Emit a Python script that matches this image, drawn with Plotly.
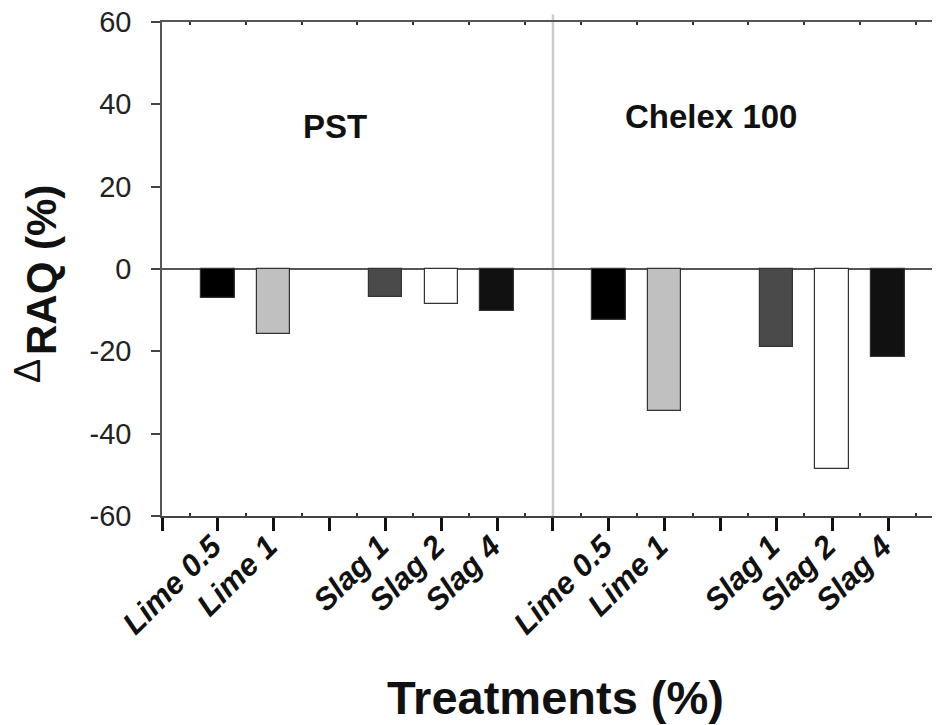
import plotly.graph_objects as go

# ---- data ----
treatments = ["Lime 0.5", "Lime 1", "Slag 1", "Slag 2", "Slag 4"]
pst_values = [-7.1, -15.7, -6.9, -8.4, -10.1]
chelex_values = [-12.3, -34.4, -18.9, -48.5, -21.3]
group_labels = ["PST", "Chelex 100"]
# axis slots (blank = gap / separator)
slot_labels = ["", "Lime 0.5", "Lime 1", "", "Slag 1", "Slag 2", "Slag 4",
               "", "Lime 0.5", "Lime 1", "", "Slag 1", "Slag 2", "Slag 4"]
y_ticks = [-60, -40, -20, 0, 20, 40, 60]
y_tick_text = ["-60", "-40", "-20", "0", "20", "40", "60"]

# ---- styles ----
bar_colors = ["#000000", "#c0c0c0", "#4a4a4a", "#ffffff", "#111111"]
FONT = "Arial, Liberation Sans, Helvetica, sans-serif"

# the page body has an 8px default margin; size the figure to fit the window
BODY = 8
W, H = 940 - BODY, 725 - BODY
L, T, B = 162 - BODY, 22 - BODY, 209

fig = go.Figure()

group_start = [1, 8]
for g, vals in enumerate([pst_values, chelex_values]):
    xs = [slot_labels.index(t, group_start[g]) for t in treatments]
    fig.add_trace(go.Bar(
        x=xs, y=vals, width=0.6,
        marker=dict(color=bar_colors, line=dict(color="#333333", width=1.2)),
        showlegend=False, hoverinfo="x+y",
    ))

x_end = 13.93
slots = list(range(len(slot_labels)))
half_ticks = [i + 0.5 for i in slots]
label_shift = 0.1  # rotated labels sit slightly left of their tick

common_x = dict(range=[0, x_end], showgrid=False, zeroline=False)

fig.update_layout(
    width=W, height=H,
    margin=dict(l=L, r=0, t=T, b=B, pad=0, autoexpand=False),
    paper_bgcolor="white", plot_bgcolor="white",
    font=dict(family=FONT, color="#111"),
    bargap=0,
    xaxis=dict(
        **common_x, tickmode="array", tickvals=slots,
        ticks="outside", ticklen=13, tickwidth=2.5, tickcolor="#111",
        showticklabels=False,
        showline=True, linecolor="#444", linewidth=2,
        minor=dict(tickmode="array", tickvals=half_ticks, ticks="inside",
                   ticklen=3, tickwidth=1.5, tickcolor="#333"),
    ),
    xaxis2=dict(
        **common_x, overlaying="x", side="top",
        tickmode="array", tickvals=half_ticks, ticks="inside",
        ticklen=3, tickwidth=1.5, tickcolor="#333",
        showticklabels=False, showline=True, linecolor="#555",
        linewidth=1.5,
    ),
    xaxis3=dict(
        **common_x, overlaying="x", side="bottom",
        tickmode="array", tickvals=[s - label_shift for s in slots],
        ticktext=slot_labels, ticks="", tickangle=-45,
        tickfont=dict(family=FONT, size=31, color="#111",
                      style="italic", weight="bold"),
        showline=False, ticklabelstandoff=5,
    ),
    yaxis=dict(
        range=[-60, 60], tickmode="array", tickvals=y_ticks,
        ticktext=y_tick_text,
        ticks="outside", ticklen=9, tickwidth=1.5, tickcolor="#444",
        tickfont=dict(family=FONT, size=29, color="#222"),
        showline=True, linecolor="#555", linewidth=1.5,
        showgrid=False, zeroline=True, zerolinecolor="#555",
        zerolinewidth=1.5, ticklabelstandoff=14,
        ticklabeloverflow="allow",
    ),
)

# dummy traces to activate the overlay axes
for ax in ["x2", "x3"]:
    fig.add_trace(go.Scatter(x=[0], y=[0], xaxis=ax, mode="markers",
                             marker=dict(opacity=0), showlegend=False,
                             hoverinfo="skip"))

# separator between groups
fig.add_shape(type="line", xref="x", yref="paper", x0=7, x1=7,
              y0=0, y1=1.015, line=dict(color="#cccccc", width=2.5),
              layer="below")

# reference-pixel -> paper conversion (plot area 162..940 x 22..516)
PW = 940 - 162
PH = 516 - 22


def px2paper(px, py):
    return (px - 162) / PW, (516 - py) / PH


# group labels
for label, (cx, cy) in zip(group_labels, [(335, 127), (711, 117)]):
    xp, yp = px2paper(cx, cy)
    fig.add_annotation(text=label, xref="paper", yref="paper", x=xp, y=yp,
                       showarrow=False, xanchor="center", yanchor="middle",
                       font=dict(family=FONT, size=33, color="#111",
                                 weight="bold"))

# y title: bold RAQ (%) with a thin, raised delta before it
xp, yp = px2paper(41, 270)
fig.add_annotation(text="RAQ (%)", xref="paper", yref="paper", x=xp, y=yp,
                   showarrow=False, textangle=-90, xanchor="center",
                   yanchor="middle",
                   font=dict(family=FONT, size=42, color="#111",
                             weight="bold"))
xp, yp = px2paper(27, 371)
fig.add_annotation(text="Δ", xref="paper", yref="paper", x=xp, y=yp,
                   showarrow=False, textangle=-90, xanchor="center",
                   yanchor="middle",
                   font=dict(family=FONT, size=36, color="#111"))

# x title
xp, yp = px2paper(555, 697)
fig.add_annotation(text="Treatments (%)", xref="paper", yref="paper",
                   x=xp, y=yp, showarrow=False, xanchor="center",
                   yanchor="middle",
                   font=dict(family=FONT, size=47, color="#111",
                             weight="bold"))

fig.write_html("out.html")
